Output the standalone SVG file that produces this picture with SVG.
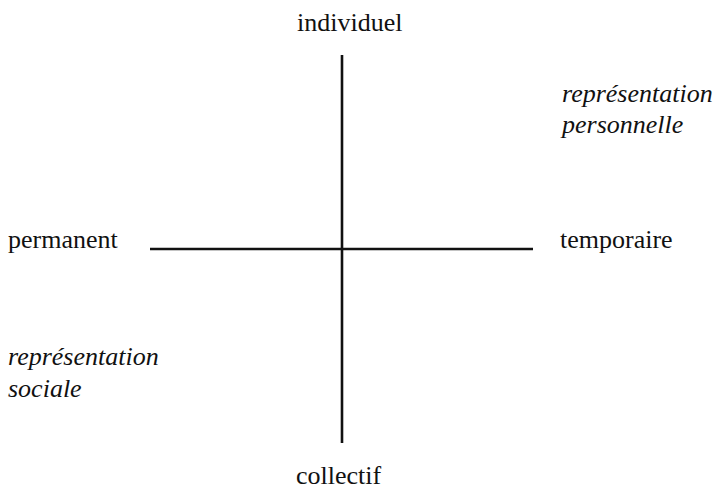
<svg xmlns="http://www.w3.org/2000/svg" width="715" height="489" viewBox="0 0 715 489">
<style>
.t{font-family:'Liberation Serif','Times New Roman',Tinos,'DejaVu Serif',serif;font-size:26px;fill:#111}
.i{font-style:italic}
.ax{stroke:#111;stroke-width:2.6;fill:none}
</style>
<rect width="715" height="489" fill="#fff"/>
<g id="connectors">
<line class="ax" x1="342" y1="55" x2="342" y2="443"/>
<line class="ax" x1="150" y1="249" x2="533" y2="249"/>
</g>
<g id="individuel"><text class="t" x="297" y="31">individuel</text></g>
<g id="collectif"><text class="t" x="296" y="484">collectif</text></g>
<g id="permanent"><text class="t" x="8" y="248">permanent</text></g>
<g id="temporaire"><text class="t" x="560" y="248">temporaire</text></g>
<g id="rep-personnelle"><text class="t i" x="562" y="102">représentation</text><text class="t i" x="562" y="133">personnelle</text></g>
<g id="rep-sociale"><text class="t i" x="8" y="365">représentation</text><text class="t i" x="8" y="397">sociale</text></g>
</svg>
